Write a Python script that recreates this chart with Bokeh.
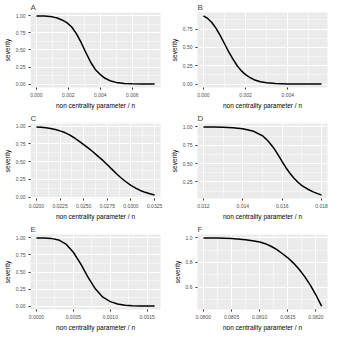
from bokeh.plotting import figure
from bokeh.layouts import gridplot
from bokeh.models import FixedTicker, CustomJSTickFormatter, Range1d
from bokeh.embed import file_html
from bokeh.resources import INLINE

# ---- data ----
a_x = [0.0000, 0.0005, 0.0010, 0.0013, 0.0016, 0.0019, 0.0022, 0.0025, 0.0028, 0.0031,
       0.0034, 0.0037, 0.0040, 0.0043, 0.0046, 0.0050, 0.0055, 0.0060, 0.0066, 0.0074]
a_y = [0.999, 0.996, 0.985, 0.968, 0.94, 0.90, 0.84, 0.74, 0.61, 0.46,
       0.32, 0.21, 0.14, 0.085, 0.05, 0.025, 0.01, 0.004, 0.001, 0.0]

b_x = [0.0000, 0.0002, 0.0004, 0.0006, 0.0008, 0.0010, 0.0012, 0.0014, 0.0016, 0.0018,
       0.0020, 0.0022, 0.0024, 0.0027, 0.0030, 0.0034, 0.0040, 0.0048, 0.0056]
b_y = [0.93, 0.895, 0.84, 0.76, 0.66, 0.55, 0.44, 0.34, 0.25, 0.18,
       0.13, 0.09, 0.06, 0.033, 0.017, 0.007, 0.002, 0.0005, 0.0]

c_x = [0.0200, 0.0205, 0.0210, 0.0215, 0.0220, 0.0225, 0.0230, 0.0235, 0.0240, 0.0245,
       0.0250, 0.0255, 0.0260, 0.0265, 0.0270, 0.0275, 0.0280, 0.0285, 0.0290, 0.0295,
       0.0300, 0.0305, 0.0310, 0.0315, 0.0320, 0.0325]
c_y = [0.99, 0.986, 0.978, 0.968, 0.953, 0.934, 0.91, 0.877, 0.837, 0.79,
       0.74, 0.69, 0.635, 0.578, 0.52, 0.455, 0.39, 0.325, 0.265, 0.212,
       0.165, 0.125, 0.092, 0.066, 0.045, 0.027]

d_x = [0.0120, 0.0125, 0.0130, 0.0135, 0.0140, 0.0145, 0.0150, 0.0152, 0.0154, 0.0156,
       0.0158, 0.0160, 0.0162, 0.0164, 0.0166, 0.0168, 0.0170, 0.0173, 0.0176, 0.0180]
d_y = [1.0, 0.999, 0.997, 0.99, 0.975, 0.945, 0.88, 0.83, 0.77, 0.70,
       0.615, 0.525, 0.44, 0.365, 0.30, 0.245, 0.20, 0.15, 0.11, 0.07]

e_x = [0.0000, 0.0001, 0.0002, 0.0003, 0.0004, 0.0005, 0.0006, 0.00065, 0.0007, 0.0008,
       0.0009, 0.0010, 0.0011, 0.0012, 0.0013, 0.0014, 0.0016]
e_y = [1.0, 0.999, 0.993, 0.97, 0.91, 0.79, 0.62, 0.52, 0.42, 0.25,
       0.13, 0.065, 0.03, 0.013, 0.005, 0.002, 0.0]

f_x = [0.08000, 0.08025, 0.08050, 0.08075, 0.08090, 0.08100, 0.08110, 0.08120, 0.08130,
       0.08140, 0.08150, 0.08160, 0.08170, 0.08180, 0.08190, 0.08200, 0.08210]
f_y = [1.0, 0.999, 0.995, 0.985, 0.975, 0.966, 0.953, 0.932, 0.906,
       0.873, 0.838, 0.795, 0.745, 0.685, 0.615, 0.535, 0.445]

a_xticks = [0.000, 0.002, 0.004, 0.006]
b_xticks = [0.000, 0.002, 0.004]
c_xticks = [0.0200, 0.0225, 0.0250, 0.0275, 0.0300, 0.0325]
d_xticks = [0.012, 0.014, 0.016, 0.018]
e_xticks = [0.0000, 0.0005, 0.0010, 0.0015]
f_xticks = [0.0800, 0.0805, 0.0810, 0.0815, 0.0820]
y_ticks_q = [0.0, 0.25, 0.5, 0.75, 1.0]
f_yticks = [0.4, 0.6, 0.8, 1.0]

panels = [
    ("A", a_x, a_y, a_xticks, 3, y_ticks_q, 2),
    ("B", b_x, b_y, b_xticks, 3, y_ticks_q, 2),
    ("C", c_x, c_y, c_xticks, 4, y_ticks_q, 2),
    ("D", d_x, d_y, d_xticks, 3, y_ticks_q, 2),
    ("E", e_x, e_y, e_xticks, 4, y_ticks_q, 2),
    ("F", f_x, f_y, f_xticks, 4, f_yticks, 1),
]

FONT = "Liberation Sans"


def minor_of(ticks):
    step = ticks[1] - ticks[0]
    out = [ticks[0] - step / 2]
    for t in ticks:
        out.append(t + step / 2)
    return out


figs = []
for lab, xs, ys, xt, xd, yt, yd in panels:
    xmin, xmax = min(xs), max(xs)
    ymin, ymax = min(ys), max(ys)
    dx = (xmax - xmin) * 0.05
    dy = (ymax - ymin) * 0.05
    p = figure(width=167, height=111, output_backend="svg", toolbar_location=None,
               x_range=Range1d(xmin - dx, xmax + dx), y_range=Range1d(ymin - dy, ymax + dy),
               min_border_left=2, min_border_right=7, min_border_top=2, min_border_bottom=2)
    p.title.text = lab
    p.title.text_font = FONT
    p.title.text_font_size = "8px"
    p.title.text_font_style = "normal"
    p.title.offset = 0
    p.title.standoff = 1
    p.background_fill_color = "#EBEBEB"
    p.border_fill_color = "white"
    p.outline_line_color = None

    p.xaxis.ticker = FixedTicker(ticks=xt, minor_ticks=minor_of(xt))
    p.yaxis.ticker = FixedTicker(ticks=yt, minor_ticks=minor_of(yt))
    p.xaxis.formatter = CustomJSTickFormatter(code="return tick.toFixed(%d);" % xd)
    p.yaxis.formatter = CustomJSTickFormatter(code="return tick.toFixed(%d);" % yd)
    p.xaxis.axis_label = "non centrality parameter / n"
    p.yaxis.axis_label = "severity"
    for ax in (p.xaxis[0], p.yaxis[0]):
        ax.axis_line_color = None
        ax.major_tick_line_color = "#333333"
        ax.major_tick_in = 0
        ax.major_tick_out = 2
        ax.minor_tick_line_color = None
        ax.major_label_text_font = FONT
        ax.major_label_text_font_size = "5px"
        ax.major_label_text_color = "#4D4D4D"
        ax.major_label_standoff = 1
        ax.axis_label_text_font = FONT
        ax.axis_label_text_font_size = "6.5px"
        ax.axis_label_text_font_style = "normal"
        ax.axis_label_text_color = "black"
        ax.axis_label_standoff = 2
    for g in (p.xgrid[0], p.ygrid[0]):
        g.grid_line_color = "white"
        g.grid_line_width = 1
        g.minor_grid_line_color = "white"
        g.minor_grid_line_width = 0.5

    p.line(xs, ys, line_color="black", line_width=1.5, line_join="round")
    figs.append(p)

grid = gridplot([figs[0:2], figs[2:4], figs[4:6]], toolbar_location=None)
open("out.html", "w").write(file_html(grid, INLINE))
